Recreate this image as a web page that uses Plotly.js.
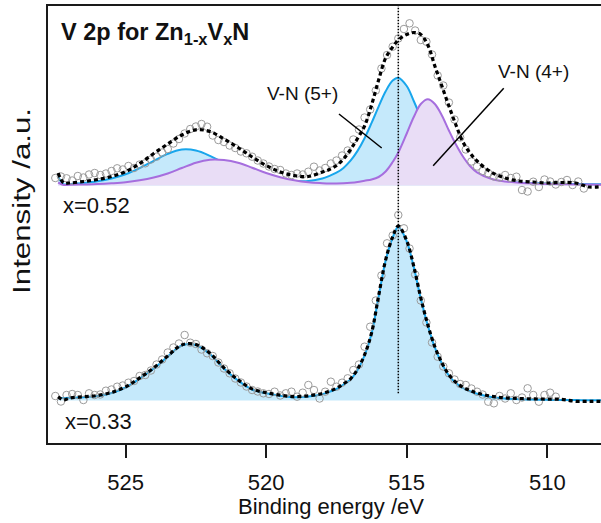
<!DOCTYPE html>
<html><head><meta charset="utf-8">
<script src="https://cdn.plot.ly/plotly-3.0.1.min.js"></script>
<style>html,body{margin:0;padding:0;background:#fff}#chart{width:601px;height:523px}</style>
</head><body><div id="chart"></div>
<script>
// Binding energies (eV) at which the fitted curves are read
const fitEnergy = [527.4, 527.2, 527, 526.5, 526, 525.5, 525, 524.5, 524, 523.5, 523, 522.5, 522, 521.5, 521, 520.5, 520, 519.5, 519, 518.5, 518, 517.75, 517.5, 517.25, 517, 516.75, 516.5, 516.25, 516, 515.75, 515.5, 515.3, 515, 514.75, 514.5, 514.25, 514, 513.75, 513.5, 513.25, 513, 512.75, 512.5, 512, 511.5, 511, 510.5, 510, 509.5, 509, 508.5, 508];

// x = 0.52 : fitted components (above the spectrum background)
const upperVN5 = [9, 1.2, 1.6, 2.6, 4.2, 7.0, 11.2, 17.4, 24.6, 31.6, 35.9, 35.0, 29.7, 22.6, 15.9, 11.1, 7.9, 5.5, 4.5, 4.5, 7.0, 9.6, 12.8, 17.6, 24.8, 34.6, 47.3, 62.6, 78.9, 94.2, 104.9, 107.8, 99.5, 84.5, 68, 52, 38.5, 28, 20, 14.3, 10.4, 7.9, 6.3, 4.4, 3.4, 2.8, 2.3, 2.0, 1.7, 1.5, 1.3, 1.2];
const upperVN4 = [3, 0.6, 0.7, 1.0, 1.4, 2.2, 3.3, 5.2, 8.0, 12.0, 17.5, 22.8, 25.8, 25.5, 22.8, 17.8, 12.5, 8.3, 5.2, 3.2, 2.3, 2.0, 2.0, 2.2, 2.7, 3.5, 4.8, 6.0, 8.5, 14, 23.5, 33, 52, 68.5, 81.5, 86.3, 81.5, 70, 55, 41, 29, 19.5, 13.2, 6.8, 4.0, 2.8, 2.1, 1.6, 1.3, 1.1, 0.9, 0.8];
const upperEnvelope = [12.5, 2.5, 2.5, 4, 6, 9, 13.8, 22, 32, 41.5, 50.5, 55.7, 54, 46.5, 38, 28.5, 20, 13.5, 10, 9, 13.5, 16, 20, 26.5, 36, 47, 59.5, 80.5, 105.5, 127.5, 138.5, 145.5, 151, 153, 151, 140.5, 119.5, 99.5, 79.5, 60.5, 43.5, 32.5, 24.5, 13.5, 7.5, 4.5, 3.5, 2.5, 3, 2.5, -1.5, -1];

// x = 0.33 : single V-N (5+) component and envelope
const lowerVN5 = [2.4, 2.5, 2.7, 3.3, 4.5, 7.5, 13, 22, 32, 44, 55, 55.5, 46.5, 32, 20, 11, 7.2, 4.8, 3.2, 4.0, 6.3, 8.7, 11.5, 16, 21, 30.5, 45, 67, 104, 140, 163, 173.8, 159, 133.5, 102, 75, 53, 37, 25, 17.5, 12.5, 9.3, 6.8, 3.6, 2.0, 1.3, 0.9, 0.7, 0.5, 0.4, 0.3, 0.3];
const lowerEnvelope = [3.8, 0.5, 2.4, 3.8, 5.0, 8.1, 13.6, 22.6, 32.6, 44.6, 55.6, 56.0, 47.2, 32.6, 20.7, 11.6, 7.8, 5.4, 3.9, 4.7, 7.0, 9.4, 12.2, 16.7, 21.7, 31.2, 45.7, 67.7, 104.7, 140.7, 163.7, 174.5, 159.7, 134.2, 102.7, 75.7, 53.7, 37.7, 25.7, 18.2, 13.2, 10.0, 7.5, 4.3, 2.7, 2.0, 1.6, 1.4, 1.2, -0.8, -0.8, -0.8];

// measured points
const upperDataEnergy = [527.5, 527.3, 527.1, 526.9, 526.7, 526.5, 526.3, 526.1, 525.9, 525.7, 525.5, 525.3, 525.1, 524.9, 524.7, 524.5, 524.3, 524.1, 523.9, 523.7, 523.5, 523.3, 523.1, 522.9, 522.7, 522.5, 522.3, 522.1, 521.9, 521.7, 521.5, 521.3, 521.1, 520.9, 520.7, 520.5, 520.3, 520.1, 519.9, 519.7, 519.5, 519.3, 519.1, 518.9, 518.7, 518.5, 518.3, 518.1, 517.9, 517.7, 517.5, 517.3, 517.1, 516.9, 516.7, 516.5, 516.3, 516.1, 515.9, 515.7, 515.5, 515.3, 515.1, 514.9, 514.7, 514.5, 514.3, 514.1, 513.9, 513.7, 513.5, 513.3, 513.1, 512.9, 512.7, 512.5, 512.3, 512.1, 511.9, 511.7, 511.5, 511.3, 511.1, 510.9, 510.7, 510.5, 510.3, 510.1, 509.9, 509.7, 509.5, 509.3, 509.1, 508.9, 508.7];
const upperData = [7.5, 9.0, 7.2, 5.0, 9.5, 8.0, 11.0, 12.5, 10.5, 12.0, 14.5, 17.2, 16.0, 19.5, 17.5, 21.0, 22.2, 26.0, 28.8, 33.0, 36.5, 42.0, 46.5, 52.0, 56.5, 59.0, 61.5, 58.8, 50.0, 45.5, 43.5, 40.0, 37.5, 34.0, 32.2, 28.8, 25.0, 22.0, 19.0, 16.5, 15.5, 12.0, 10.5, 12.0, 11.0, 13.8, 18.8, 15.0, 17.5, 22.0, 25.0, 30.0, 35.0, 46.0, 56.0, 68.0, 76.0, 95.0, 117.0, 130.5, 138.8, 147.0, 156.5, 162.2, 155.0, 145.5, 143.8, 131.0, 110.0, 100.0, 83.0, 66.0, 48.0, 36.0, 24.0, 19.0, 14.5, 12.2, 9.0, 8.0, 10.5, 7.5, 8.8, -4.5, -6.0, 3.8, -1.5, 6.0, 4.0, 1.0, 3.5, 5.5, 0.5, 4.0, -3.0];
const lowerDataEnergy = [527.5, 527.3, 527.1, 526.9, 526.7, 526.5, 526.3, 526.1, 525.9, 525.7, 525.5, 525.3, 525.1, 524.9, 524.7, 524.5, 524.3, 524.1, 523.9, 523.7, 523.5, 523.3, 523.1, 522.9, 522.7, 522.5, 522.3, 522.1, 521.9, 521.7, 521.5, 521.3, 521.1, 520.9, 520.7, 520.5, 520.3, 520.1, 519.9, 519.7, 519.5, 519.3, 519.1, 518.9, 518.7, 518.5, 518.3, 518.1, 517.9, 517.7, 517.5, 517.3, 517.1, 516.9, 516.7, 516.5, 516.3, 516.1, 515.9, 515.7, 515.5, 515.3, 515.1, 514.9, 514.7, 514.5, 514.3, 514.1, 513.9, 513.7, 513.5, 513.3, 513.1, 512.9, 512.7, 512.5, 512.3, 512.1, 511.9, 511.7, 511.5, 511.3, 511.1, 510.9, 510.7, 510.5, 510.3, 510.1, 509.9, 509.7];
const lowerData = [4.5, -1.0, 5.5, 6.5, 5.5, 0.5, 7.2, 5.5, 6.0, 9.8, 11.0, 13.8, 15.0, 17.8, 19.5, 24.5, 25.5, 30.0, 36.0, 41.0, 48.0, 53.0, 57.0, 65.5, 57.8, 56.5, 51.0, 47.2, 44.5, 38.0, 32.0, 27.2, 22.0, 18.0, 14.0, 10.5, 9.0, 7.2, 6.5, 8.8, 5.0, 7.2, 8.8, 3.8, 7.8, 15.5, 10.5, 2.0, 8.8, 18.8, 13.8, 17.8, 22.2, 30.5, 36.0, 53.8, 73.8, 100.0, 125.0, 157.2, 165.0, 185.5, 172.2, 152.0, 126.0, 100.0, 78.0, 58.0, 43.8, 34.0, 27.2, 21.0, 16.5, 15.5, 12.0, 8.8, 6.0, -1.2, -2.8, 4.5, 2.0, 7.2, 0.5, 3.0, 12.2, 5.5, -1.2, 5.5, 7.8, 3.8];

const upperOffset = 257.5;   // vertical stacking offsets of the two spectra
const lowerOffset = 42.5;
const peakEnergy = 515.3;
const xTicks = [525, 520, 515, 510];
const labelTop = 'x=0.52';
const labelBottom = 'x=0.33';
const yTitle = 'Intensity /a.u.';

const FONT = "'Liberation Sans', Arial, sans-serif";
const BLUE = 'rgb(24,166,236)', BLUE_FILL = 'rgb(197,233,251)';
const PURPLE = 'rgb(166,110,222)', PURPLE_FILL = 'rgb(233,221,246)';
const AX = '#1a1a1a';

const shift = (arr, off) => arr.map(v => v + off);
const flat = (off) => fitEnergy.map(() => off);
const base = (off) => ({x: fitEnergy, y: flat(off), mode: 'lines', line: {width: 0}, hoverinfo: 'skip', showlegend: false});
const comp = (vals, off, c, f) => ({x: fitEnergy, y: shift(vals, off), mode: 'lines', line: {color: c, width: 2, shape: 'spline'}, fill: 'tonexty', fillcolor: f, showlegend: false});
const pts = (xs, ys, off) => ({x: xs, y: shift(ys, off), mode: 'markers', marker: {symbol: 'circle-open', size: 7.5, color: 'rgb(155,155,155)', line: {width: 1, color: 'rgb(155,155,155)'}}, showlegend: false});
const env = (vals, off) => ({x: fitEnergy, y: shift(vals, off), mode: 'lines', line: {color: '#000', width: 3.2, dash: '4px,3px', shape: 'spline'}, showlegend: false});

const data = [
  base(upperOffset), comp(upperVN5, upperOffset, BLUE, BLUE_FILL),
  base(upperOffset), comp(upperVN4, upperOffset, PURPLE, PURPLE_FILL),
  base(lowerOffset), comp(lowerVN5, lowerOffset, BLUE, BLUE_FILL),
  pts(upperDataEnergy, upperData, upperOffset),
  pts(lowerDataEnergy, lowerData, lowerOffset),
  env(upperEnvelope, upperOffset),
  env(lowerEnvelope, lowerOffset)
];

const layout = {
  width: 601, height: 523,
  margin: {l: 48, r: 0, t: 6, b: 80},
  paper_bgcolor: '#fff', plot_bgcolor: '#fff',
  font: {family: FONT, color: '#111', size: 22},
  showlegend: false,
  xaxis: {
    range: [527.76, 508.09], tickvals: xTicks, ticktext: xTicks.map(String),
    ticks: 'outside', ticklen: 13, tickwidth: 2, tickcolor: AX, ticklabelstandoff: 6,
    showline: true, linewidth: 2, linecolor: AX, mirror: true,
    showgrid: false, zeroline: false, tickfont: {size: 22, family: FONT, color: '#111'}
  },
  yaxis: {
    range: [0, 437], showticklabels: false, ticks: '', showline: true, linewidth: 2, linecolor: AX,
    showgrid: false, zeroline: false
  },
  shapes: [
    {type: 'line', xref: 'x', yref: 'paper', x0: peakEnergy, x1: peakEnergy, y0: 0.114, y1: 1, line: {color: '#000', width: 1.5, dash: '1.5px,1.5px'}},
    {type: 'line', xref: 'x', yref: 'y', x0: 517.41, y0: 329, x1: 515.89, y1: 295, line: {color: '#000', width: 1.5}},
    {type: 'line', xref: 'x', yref: 'y', x0: 511.55, y0: 354.7, x1: 514.06, y1: 277.3, line: {color: '#000', width: 1.5}}
  ],
  annotations: [
    {xref: 'paper', yref: 'paper', x: 0.02, y: 0.938, xanchor: 'left', yanchor: 'middle', showarrow: false,
     text: '<b>V 2p for Zn<sub>1-x</sub>V<sub>x</sub>N</b>', font: {size: 23.5, family: FONT, color: '#111'}},
    {xref: 'x', yref: 'y', x: 518.71, y: 350, showarrow: false, text: 'V-N (5+)', font: {size: 19, family: FONT, color: '#111'}},
    {xref: 'x', yref: 'y', x: 510.48, y: 371.5, showarrow: false, text: 'V-N (4+)', font: {size: 19, family: FONT, color: '#111'}},
    {xref: 'paper', yref: 'paper', x: 0.0235, y: 0.5435, xanchor: 'left', yanchor: 'middle', showarrow: false, text: labelTop, font: {size: 22, family: FONT, color: '#111'}},
    {xref: 'paper', yref: 'paper', x: 0.027, y: 0.049, xanchor: 'left', yanchor: 'middle', showarrow: false, text: labelBottom, font: {size: 22, family: FONT, color: '#111'}},
    {xref: 'paper', yref: 'paper', x: 0.512, y: -0.145, xanchor: 'center', yanchor: 'middle', showarrow: false, text: 'Binding energy /eV', font: {size: 22, family: FONT, color: '#111'}},
    {xref: 'paper', yref: 'paper', x: -0.047, y: 0.553, xanchor: 'center', yanchor: 'middle', showarrow: false, textangle: -90, text: yTitle, font: {size: 23, family: FONT, color: '#111'}}
  ]
};

Plotly.newPlot('chart', data, layout, {displayModeBar: false, staticPlot: true}).then(gd => {
  // the reference's axis label is drawn stretched along its length
  gd.querySelectorAll('text.annotation-text').forEach(t => {
    if (t.textContent === yTitle) {
      t.setAttribute('textLength', '186');
      t.setAttribute('lengthAdjust', 'spacingAndGlyphs');
    }
  });
});
</script></body></html>
